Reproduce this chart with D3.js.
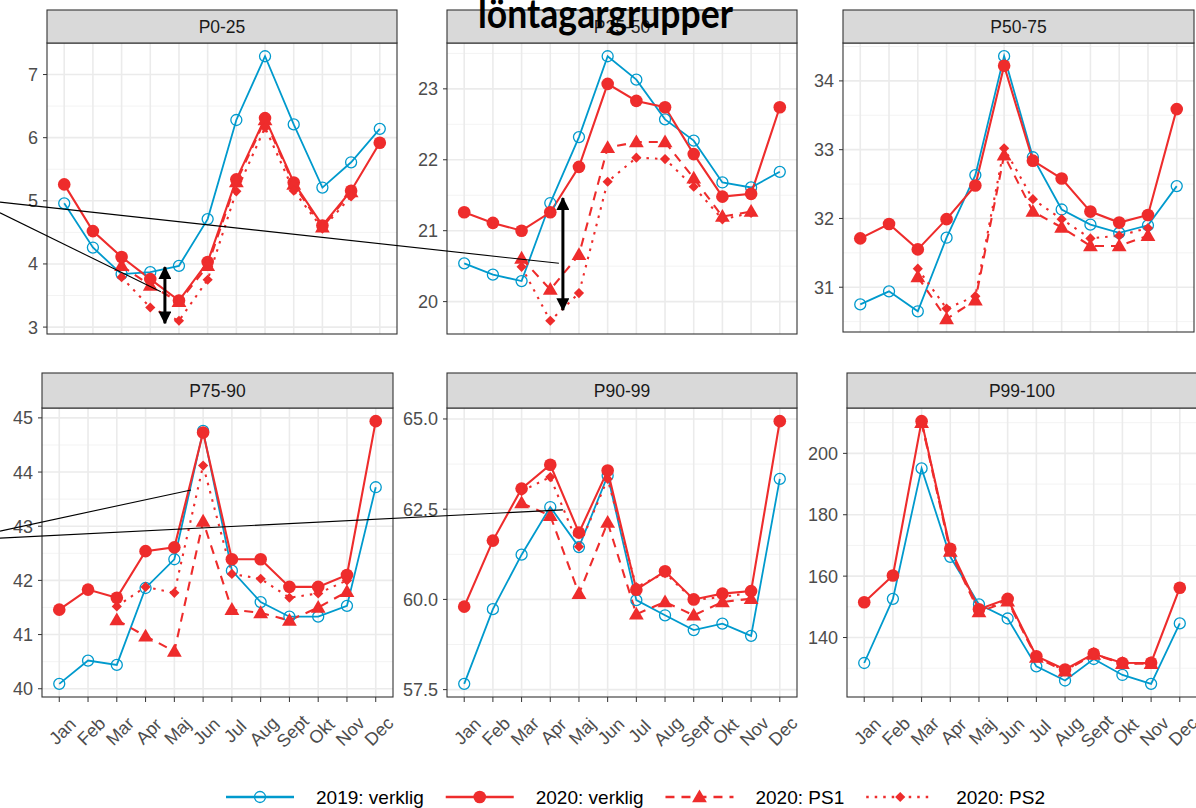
<!DOCTYPE html>
<html>
<head>
<meta charset="utf-8">
<script src="https://cdn.jsdelivr.net/npm/d3@7"></script>
<style>
  body { margin: 0; background: #fff; }
  svg { display: block; font-family: "Liberation Sans", Arial, sans-serif; }
</style>
</head>
<body>
<div id="chart"></div>
<script>
// ---- data ----
const months = ["Jan", "Feb", "Mar", "Apr", "Maj", "Jun", "Jul", "Aug", "Sept", "Okt", "Nov", "Dec"];
const groups = ["P0-25", "P25-50", "P50-75", "P75-90", "P90-99", "P99-100"];
const seriesNames = ["2019: verklig", "2020: verklig", "2020: PS1", "2020: PS2"];

// one row per group, one value per month
const actual2019 = [
    [4.96, 4.26, 3.84, 3.87, 3.97, 4.71, 6.28, 7.29, 6.21, 5.21, 5.61, 6.14],
    [20.54, 20.38, 20.29, 21.39, 22.32, 23.46, 23.13, 22.57, 22.27, 21.68, 21.61, 21.83],
    [30.75, 30.94, 30.65, 31.72, 32.63, 34.36, 32.89, 32.13, 31.91, 31.79, 31.90, 32.47],
    [40.09, 40.52, 40.44, 41.86, 42.39, 44.76, 42.18, 41.60, 41.33, 41.33, 41.53, 43.72],
    [57.66, 59.73, 61.24, 62.56, 61.45, 63.43, 59.98, 59.56, 59.15, 59.33, 58.99, 63.34],
    [131.7, 152.6, 195.1, 166.3, 150.8, 146.2, 130.6, 126.0, 133.0, 127.8, 124.9, 144.6]
];
const actual2020 = [
    [5.26, 4.52, 4.11, 3.76, 3.42, 4.03, 5.34, 6.31, 5.29, 4.61, 5.16, 5.92],
    [21.26, 21.11, 21.00, 21.26, 21.90, 23.07, 22.83, 22.74, 22.08, 21.48, 21.52, 22.74],
    [31.71, 31.92, 31.55, 31.99, 32.48, 34.22, 32.84, 32.58, 32.10, 31.94, 32.05, 33.59],
    [41.46, 41.83, 41.68, 42.54, 42.61, 44.73, 42.39, 42.39, 41.88, 41.88, 42.10, 44.94],
    [59.80, 61.63, 63.07, 63.73, 61.85, 63.57, 60.27, 60.78, 60.00, 60.16, 60.23, 64.94],
    [151.5, 160.2, 210.5, 168.9, 149.2, 152.6, 133.9, 129.6, 134.7, 131.7, 131.8, 156.2]
];
const ps1 = [
    [null, null, 3.97, 3.66, 3.40, 3.97, 5.30, 6.28, 5.26, 4.58, 5.14, null],
    [null, null, 20.61, 20.17, 20.66, 22.17, 22.25, 22.25, 21.74, 21.20, 21.27, null],
    [null, null, 31.15, 30.54, 30.81, 32.92, 32.10, 31.87, 31.60, 31.60, 31.75, null],
    [null, null, 41.27, 40.97, 40.69, 43.09, 41.46, 41.40, 41.26, 41.50, 41.79, null],
    [null, null, 62.67, 62.32, 60.16, 62.13, 59.59, 59.93, 59.56, 59.93, 60.02, null],
    [null, null, 210.0, 168.0, 148.3, 151.8, 133.5, 129.0, 134.5, 131.5, 131.5, null]
];
const ps2 = [
    [null, null, 3.79, 3.31, 3.10, 3.75, 5.15, 6.16, 5.16, 4.56, 5.07, null],
    [null, null, 20.49, 19.73, 20.12, 21.69, 22.03, 22.01, 21.62, 21.16, 21.25, null],
    [null, null, 31.27, 30.69, 30.87, 33.02, 32.28, 31.99, 31.71, 31.75, 31.86, null],
    [null, null, 41.52, 41.88, 41.77, 44.12, 42.12, 42.03, 41.68, 41.76, 42.00, null],
    [null, null, 63.00, 63.39, 61.46, 63.34, 60.34, 60.73, 59.98, 60.07, 60.18, null],
    [null, null, 210.3, 168.5, 148.8, 152.2, 133.7, 129.3, 134.6, 131.6, 131.6, null]
];

const yTicks = [
    [3, 4, 5, 6, 7],
    [20, 21, 22, 23],
    [31, 32, 33, 34],
    [40, 41, 42, 43, 44, 45],
    [57.5, 60, 62.5, 65],
    [140, 160, 180, 200]
];
const yTickFormats = ["d", "d", "d", "d", ".1f", "d"];

// slide callouts drawn over the chart (panel index, month position, value)
const arrows = [
    { panel: 0, at: 3.51, from: 3.06, to: 3.95 },
    { panel: 1, at: 3.44, from: 19.88, to: 21.46 }
];
const pointers = [
    { fromPanel: 0, fromValue: 4.98, toPanel: 1, toAt: 3.30, toValue: 20.54 },
    { fromPanel: 0, fromValue: 4.81, toPanel: 0, toAt: 3.37, toValue: 3.56 },
    { fromPanel: 3, fromValue: 42.91, toPanel: 3, toAt: 4.58, toValue: 43.67 },
    { fromPanel: 3, fromValue: 42.78, toPanel: 4, toAt: 3.44, toValue: 62.48 }
];
const titleText = "löntagargrupper";

// ---- layout ----
const W = 1196, H = 808;
const layout = [
    { left: 47, right: 397, top: 10, stripH: 33, bottom: 334 },
    { left: 447, right: 797, top: 10, stripH: 33, bottom: 334 },
    { left: 843, right: 1194, top: 10, stripH: 33, bottom: 332 },
    { left: 42, right: 393, top: 373, stripH: 35, bottom: 697 },
    { left: 447, right: 797, top: 373, stripH: 35, bottom: 697 },
    { left: 847, right: 1197, top: 373, stripH: 35, bottom: 697 }
];
const blue = "#009ACD", red = "#EE2C2C";
const styles = [
    { color: blue, width: 1.8, dash: null, shape: "open" },
    { color: red, width: 2.1, dash: null, shape: "circle" },
    { color: red, width: 2.1, dash: "9,7", shape: "triangle" },
    { color: red, width: 2.1, dash: "2.5,6", shape: "diamond" }
];
const seriesData = [actual2019, actual2020, ps1, ps2];

const svg = d3.select("#chart").append("svg")
    .attr("width", W)
    .attr("height", H);

const defs = svg.append("defs");
defs.append("marker")
    .attr("id", "head")
    .attr("viewBox", "0 0 12 12")
    .attr("refX", 11).attr("refY", 6)
    .attr("markerUnits", "userSpaceOnUse")
    .attr("markerWidth", 13).attr("markerHeight", 13)
    .attr("orient", "auto-start-reverse")
    .append("path")
    .attr("d", "M0,0 L12,6 L0,12 z")
    .attr("fill", "#000");

function symbolPath(shape) {
    if (shape === "open") return d3.symbol(d3.symbolCircle, 95)();
    if (shape === "circle") return d3.symbol(d3.symbolCircle, 125)();
    if (shape === "triangle") return d3.symbol(d3.symbolTriangle, 95)();
    return d3.symbol(d3.symbolSquare, 52)();
}

function drawPoint(g, st, cx, cy) {
    const p = g.append("path")
        .attr("d", symbolPath(st.shape))
        .attr("transform", `translate(${cx},${cy})` + (st.shape === "diamond" ? " rotate(45)" : "") + (st.shape === "triangle" ? " translate(0,1)" : ""));
    if (st.shape === "open") {
        p.attr("fill", "none").attr("stroke", st.color).attr("stroke-width", 1.3);
    } else {
        p.attr("fill", st.color);
    }
}

const panels = groups.map((name, i) => {
    const box = layout[i];
    const x = d3.scalePoint().domain(months).range([box.left, box.right]).padding(0.6);
    const vals = seriesData.map(s => s[i]).flat().filter(v => v != null);
    const [lo, hi] = d3.extent(vals);
    const pad = (hi - lo) * 0.05;
    const y = d3.scaleLinear().domain([lo - pad, hi + pad]).range([box.bottom, box.top + box.stripH]);
    const xAt = at => x(months[0]) + at * x.step();
    return { name, box, x, y, xAt, index: i };
});

panels.forEach(p => {
    const { box, x, y } = p;
    const g = svg.append("g");
    const plotTop = box.top + box.stripH;
    const ticks = yTicks[p.index];
    const step = ticks[1] - ticks[0];
    const [d0, d1] = y.domain();

    // minor grid
    const minor = d3.range(ticks[0] - step / 2, ticks[ticks.length - 1] + step, step)
        .filter(v => v > d0 && v < d1);
    g.selectAll(".minor").data(minor).enter().append("line")
        .attr("x1", box.left).attr("x2", box.right)
        .attr("y1", d => y(d)).attr("y2", d => y(d))
        .attr("stroke", "#f2f2f2").attr("stroke-width", 0.9);
    // major grid
    g.selectAll(".major").data(ticks).enter().append("line")
        .attr("x1", box.left).attr("x2", box.right)
        .attr("y1", d => y(d)).attr("y2", d => y(d))
        .attr("stroke", "#ebebeb").attr("stroke-width", 1.6);
    g.selectAll(".vgrid").data(months).enter().append("line")
        .attr("x1", d => x(d)).attr("x2", d => x(d))
        .attr("y1", plotTop).attr("y2", box.bottom)
        .attr("stroke", "#ebebeb").attr("stroke-width", 1.6);

    // y axis
    const fmt = d3.format(yTickFormats[p.index]);
    g.selectAll(".ytick").data(ticks).enter().append("line")
        .attr("x1", box.left - 4).attr("x2", box.left)
        .attr("y1", d => y(d)).attr("y2", d => y(d))
        .attr("stroke", "#333").attr("stroke-width", 1);
    g.selectAll(".ylab").data(ticks).enter().append("text")
        .attr("x", box.left - 9)
        .attr("y", d => y(d))
        .attr("dy", "0.36em")
        .attr("text-anchor", "end")
        .style("font-size", "18px")
        .attr("fill", "#4d4d4d")
        .text(d => fmt(d));

    // x axis only on the lower row
    if (p.index >= 3) {
        g.selectAll(".xtick").data(months).enter().append("line")
            .attr("x1", d => x(d)).attr("x2", d => x(d))
            .attr("y1", box.bottom).attr("y2", box.bottom + 5)
            .attr("stroke", "#333").attr("stroke-width", 1);
        g.selectAll(".xlab").data(months).enter().append("text")
            .attr("transform", d => `translate(${x(d) + 3},${box.bottom + 34}) rotate(-45)`)
            .attr("text-anchor", "middle")
            .attr("dy", "0.36em")
            .style("font-size", "18px")
            .attr("fill", "#4d4d4d")
            .text(d => d);
    }

    // lines then points
    const line = d3.line()
        .defined(d => d.v != null)
        .x(d => x(d.m))
        .y(d => y(d.v));
    seriesData.forEach((s, k) => {
        const rows = months.map((m, j) => ({ m, v: s[p.index][j] }));
        const st = styles[k];
        g.append("path")
            .datum(rows)
            .attr("fill", "none")
            .attr("stroke", st.color)
            .attr("stroke-width", st.width)
            .attr("stroke-dasharray", st.dash)
            .attr("d", line);
    });
    seriesData.forEach((s, k) => {
        const st = styles[k];
        months.forEach((m, j) => {
            const v = s[p.index][j];
            if (v == null) return;
            drawPoint(g, st, x(m), y(v));
        });
    });

    // border and strip
    g.append("rect")
        .attr("x", box.left).attr("y", plotTop)
        .attr("width", box.right - box.left).attr("height", box.bottom - plotTop)
        .attr("fill", "none").attr("stroke", "#333").attr("stroke-width", 1.1);
    g.append("rect")
        .attr("x", box.left).attr("y", box.top)
        .attr("width", box.right - box.left).attr("height", box.stripH)
        .attr("fill", "#d9d9d9").attr("stroke", "#333").attr("stroke-width", 1.1);
    g.append("text")
        .attr("x", (box.left + box.right) / 2)
        .attr("y", box.top + box.stripH / 2)
        .attr("dy", "0.36em")
        .attr("text-anchor", "middle")
        .style("font-size", "17.5px")
        .attr("fill", "#1a1a1a")
        .text(p.name);
});

// legend
const legend = svg.append("g");
let lx = 226;
const ly = 797;
seriesNames.forEach((name, k) => {
    const st = styles[k];
    legend.append("line")
        .attr("x1", lx).attr("x2", lx + 68)
        .attr("y1", ly).attr("y2", ly)
        .attr("stroke", st.color)
        .attr("stroke-width", st.width + 0.6)
        .attr("stroke-dasharray", st.dash);
    drawPoint(legend, st, lx + 34, ly);
    const t = legend.append("text")
        .attr("x", lx + 90)
        .attr("y", ly)
        .attr("dy", "0.36em")
        .style("font-size", "19px")
        .attr("fill", "#000")
        .text(name);
    lx += 90 + t.node().getComputedTextLength() + 22;
});

// slide callouts
const notes = svg.append("g");
pointers.forEach(d => {
    const a = panels[d.fromPanel], b = panels[d.toPanel];
    notes.append("line")
        .attr("x1", 0).attr("y1", a.y(d.fromValue))
        .attr("x2", b.xAt(d.toAt)).attr("y2", b.y(d.toValue))
        .attr("stroke", "#000").attr("stroke-width", 1.1);
});
arrows.forEach(d => {
    const p = panels[d.panel];
    notes.append("line")
        .attr("x1", p.xAt(d.at)).attr("x2", p.xAt(d.at))
        .attr("y1", p.y(d.to)).attr("y2", p.y(d.from))
        .attr("stroke", "#000").attr("stroke-width", 3)
        .attr("marker-start", "url(#head)")
        .attr("marker-end", "url(#head)");
});
svg.append("text")
    .attr("x", 478)
    .attr("y", 28)
    .attr("textLength", 255)
    .attr("lengthAdjust", "spacingAndGlyphs")
    .style("font-family", "Lato, 'Open Sans', sans-serif")
    .style("font-weight", 700)
    .style("font-size", "40px")
    .attr("fill", "#000")
    .text(titleText);
</script>
</body>
</html>
